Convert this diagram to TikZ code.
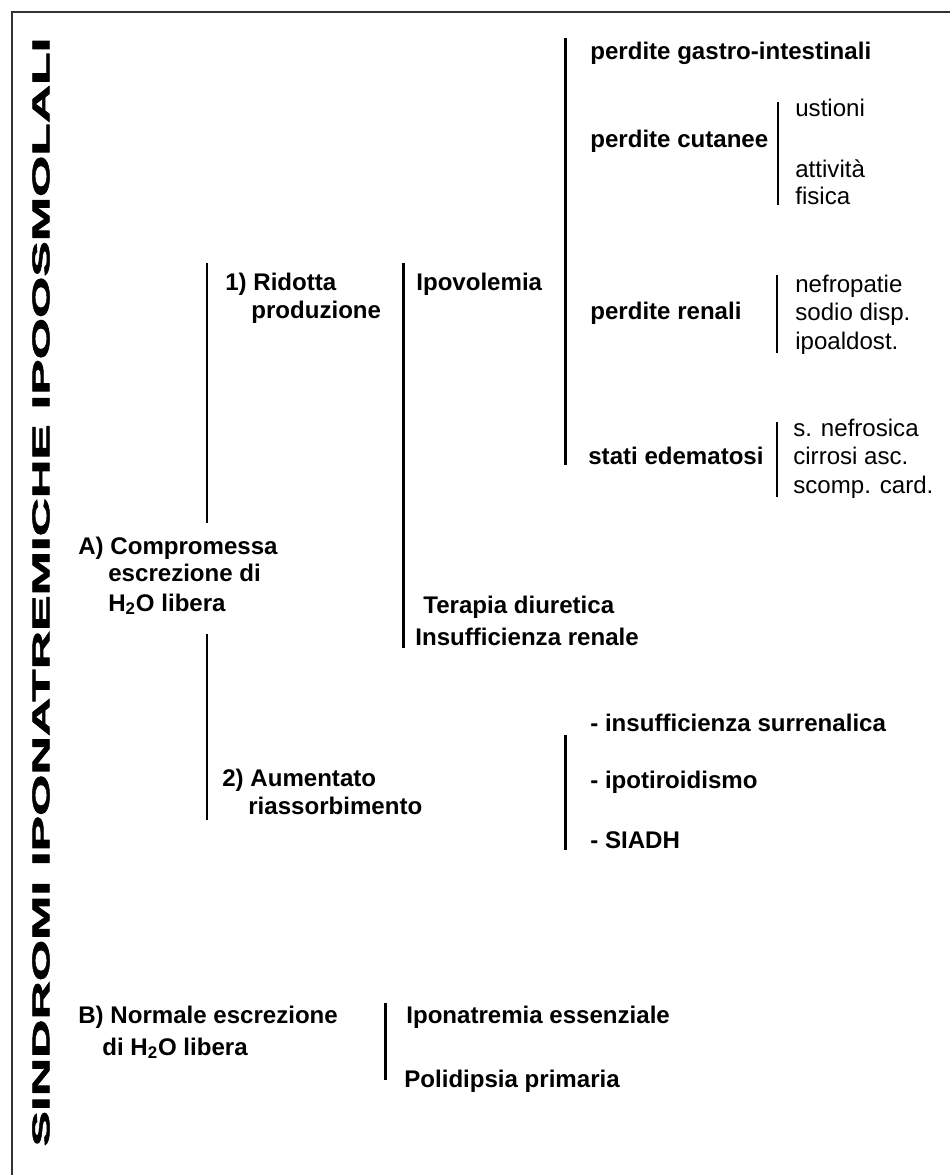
\documentclass[tikz,border=0pt]{standalone}
\usepackage{fontspec}
\setmainfont{Liberation Sans}
\newfontfamily\titlefont[FakeBold=2]{Liberation Sans Bold}
\usepackage{graphicx}
\tikzset{
  bar/.style={line width=1.7pt},
  thinbar/.style={line width=1.1pt},
  frameline/.style={line width=1.2pt, black!80},
  lbl/.style={font=\fontsize{13.7pt}{16pt}\selectfont\bfseries, inner sep=0pt, anchor=base west},
  sublbl/.style={font=\fontsize{13.7pt}{16pt}\selectfont, inner sep=0pt, anchor=base west}
}

\begin{document}
\begin{tikzpicture}[x=0.02cm, y=-0.02cm]

\useasboundingbox (0,0) rectangle (950,1175);

\draw[frameline] (950,12) -- (12,12) -- (12,1175);

\node[rotate=90, inner sep=0pt] (title) at (41,592) {\resizebox{22.18cm}{0.34cm}{\titlefont SINDROMI IPONATREMICHE IPOOSMOLALI}};

\draw[bar] (565,38) -- (565,465);
\draw[bar] (207,263) -- (207,523);
\draw[bar] (403,263) -- (403,648);
\draw[bar] (207,634) -- (207,820);
\draw[bar] (565,735) -- (565,850);
\draw[bar] (385,1003) -- (385,1080);

\draw[thinbar] (778,102) -- (778,205);
\draw[thinbar] (777,275) -- (777,353);
\draw[thinbar] (777,422) -- (777,497);

\node[lbl] (gastro) at (590,60) {perdite gastro-intestinali};
\node[lbl] (cutanee) at (590,148) {perdite cutanee};
\node[lbl] (renali) at (590,320) {perdite renali};
\node[lbl] (edema) at (588,464) {stati edematosi};

\node[sublbl] (ustioni) at (795,117) {ustioni};
\node[sublbl] (attivita) at (795,178) {attività};
\node[sublbl] (fisica) at (795,205) {fisica};
\node[sublbl] (nefro) at (795,293) {nefropatie};
\node[sublbl] (sodio) at (795,321) {sodio disp.};
\node[sublbl] (ipoald) at (795,350) {ipoaldost.};
\node[sublbl] (nefrosica) at (793,436) {s. nefrosica};
\node[sublbl] (cirrosi) at (793,464) {cirrosi asc.};
\node[sublbl] (scomp) at (793,493) {scomp. card.};

\node[lbl] (ridotta) at (225,291) {1) Ridotta};
\node[lbl] (produz) at (251,319) {produzione};
\node[lbl] (ipovol) at (416,291) {Ipovolemia};

\node[lbl] (compA) at (78,554) {A) Compromessa};
\node[lbl] (escrA) at (108,581) {escrezione di};
\node[lbl] (liberaA) at (108,611) {H\textsubscript{2}O libera};

\node[lbl] (terapia) at (423,613) {Terapia diuretica};
\node[lbl] (insren) at (415,645) {Insufficienza renale};

\node[lbl] (aument) at (222,786) {2) Aumentato};
\node[lbl] (riass) at (248,814) {riassorbimento};

\node[lbl] (surren) at (590,731) {- insufficienza surrenalica};
\node[lbl] (tiroid) at (590,788) {- ipotiroidismo};
\node[lbl] (siadh) at (590,848) {- SIADH};

\node[lbl] (normB) at (78,1023) {B) Normale escrezione};
\node[lbl] (liberaB) at (102,1055) {di H\textsubscript{2}O libera};

\node[lbl] (essenz) at (406,1023) {Iponatremia essenziale};
\node[lbl] (polid) at (404,1087) {Polidipsia primaria};

\end{tikzpicture}
\end{document}
